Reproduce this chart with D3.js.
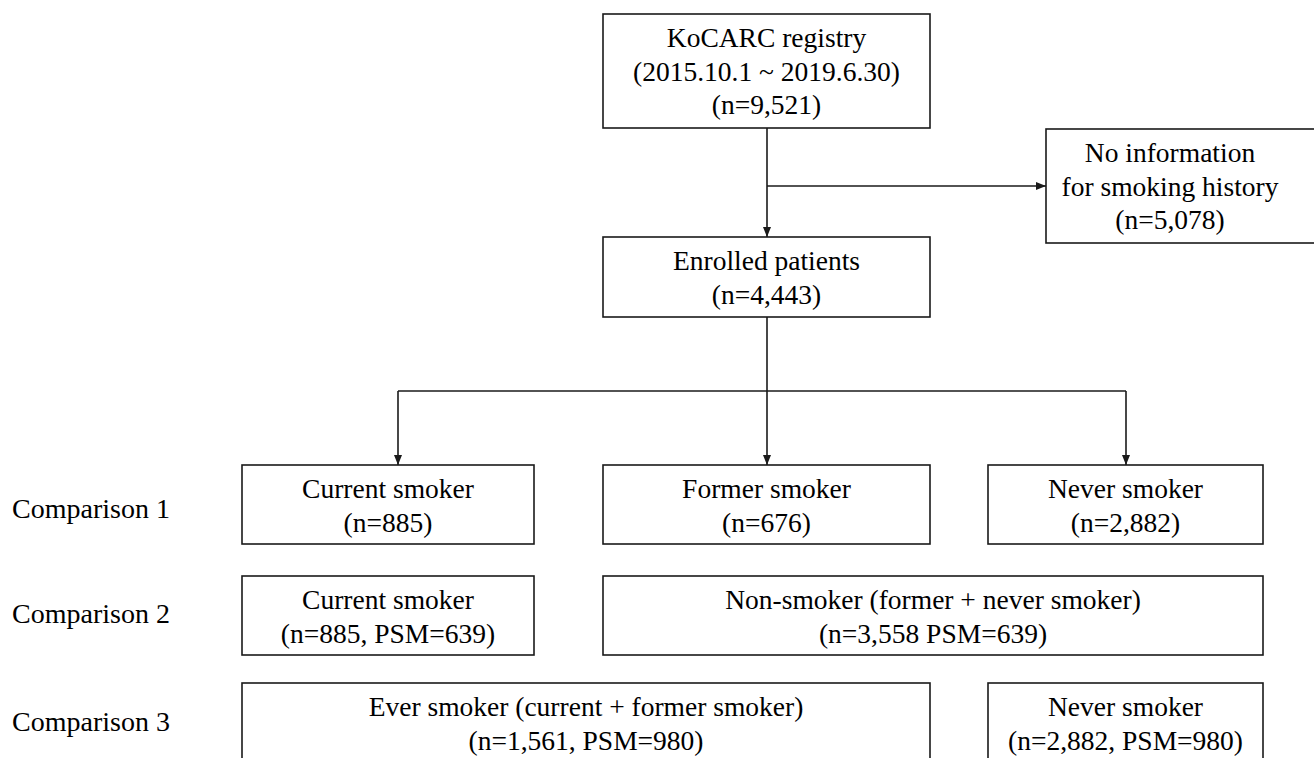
<!DOCTYPE html>
<html>
<head>
<meta charset="utf-8">
<script src="https://cdn.jsdelivr.net/npm/d3@7"></script>
<style>
  html, body { margin: 0; padding: 0; background: #fff; }
  svg { display: block; }
</style>
</head>
<body>
<svg></svg>
<script>
// Contenido del diagrama de flujo
var nodeIds = ["registry", "noinfo", "enrolled", "current1", "former1", "never1", "current2", "non2", "ever3", "never3"];
var nodeLines = [
  ["KoCARC registry", "(2015.10.1 ~ 2019.6.30)", "(n=9,521)"],
  ["No information", "for smoking history", "(n=5,078)"],
  ["Enrolled patients", "(n=4,443)"],
  ["Current smoker", "(n=885)"],
  ["Former smoker", "(n=676)"],
  ["Never smoker", "(n=2,882)"],
  ["Current smoker", "(n=885, PSM=639)"],
  ["Non-smoker (former + never smoker)", "(n=3,558 PSM=639)"],
  ["Ever smoker (current + former smoker)", "(n=1,561, PSM=980)"],
  ["Never smoker", "(n=2,882, PSM=980)"]
];
var rowLabels = ["Comparison 1", "Comparison 2", "Comparison 3"];
// enlaces: origen -> destinos
var links = [
  { from: "registry", to: ["enrolled"], side: "noinfo" },
  { from: "enrolled", to: ["current1", "former1", "never1"] }
];

// Disposición (columnas y filas)
var nodeCol = ["mid", "side", "mid", "left", "mid", "right", "left", "wide", "leftwide", "right"];
var nodeRow = ["r0", "rs", "r1", "r2", "r2", "r2", "r3", "r3", "r4", "r4"];

var svgWidth = 1314, svgHeight = 758;
var svg = d3.select("svg").attr("width", svgWidth).attr("height", svgHeight);

var colX = d3.scaleOrdinal()
  .domain(["left", "mid", "right", "side", "wide", "leftwide"])
  .range([[242, 534], [603, 930], [988, 1263], [1046, 1330], [603, 1263], [242, 930]]);
var rowY = d3.scaleOrdinal()
  .domain(["r0", "rs", "r1", "r2", "r3", "r4"])
  .range([[14, 128], [129, 243], [237, 317], [465, 544], [576, 655], [683, 800]]);
var labelY = d3.scaleOrdinal().domain(rowLabels).range([518, 623, 731]);

var nodes = nodeIds.map(function(id, i) {
  var xs = colX(nodeCol[i]), ys = rowY(nodeRow[i]);
  var cx = (xs[0] + xs[1]) / 2;
  if (id === "noinfo") cx = 1170; // la caja queda cortada por el borde derecho
  return { id: id, lines: nodeLines[i], x0: xs[0], x1: xs[1], y0: ys[0], y1: ys[1], cx: cx };
});
var byId = {};
nodes.forEach(function(n) { byId[n.id] = n; });

var ink = "#1a1a1a";
var font = "'Liberation Serif', 'Times New Roman', serif";

// punta de flecha
svg.append("defs").append("marker")
  .attr("id", "arrow")
  .attr("viewBox", "0 0 10 8")
  .attr("refX", 10).attr("refY", 4)
  .attr("markerWidth", 10).attr("markerHeight", 8)
  .attr("markerUnits", "userSpaceOnUse")
  .attr("orient", "auto")
  .append("path")
  .attr("d", "M0,0L10,4L0,8Z")
  .attr("fill", ink);

// Cajas
var g = svg.append("g");
g.selectAll("rect.box")
  .data(nodes)
  .join("rect")
  .attr("class", "box")
  .attr("x", function(d) { return d.x0; })
  .attr("y", function(d) { return d.y0; })
  .attr("width", function(d) { return d.x1 - d.x0; })
  .attr("height", function(d) { return d.y1 - d.y0; })
  .attr("fill", "#fff")
  .attr("stroke", ink)
  .attr("stroke-width", 1.6);

// Texto de las cajas
var lineGap = 33.5;
g.selectAll("text.node")
  .data(nodes)
  .join("text")
  .attr("class", "node")
  .attr("font-family", font)
  .attr("font-size", 27.5)
  .attr("fill", "#000")
  .attr("text-anchor", "middle")
  .each(function(d) {
    d3.select(this).selectAll("tspan")
      .data(d.lines)
      .join("tspan")
      .attr("x", d.cx)
      .attr("y", function(l, j) { return d.y0 + 33 + j * lineGap; })
      .text(function(l) { return l; });
  });

// Etiquetas de comparación
svg.selectAll("text.row")
  .data(rowLabels)
  .join("text")
  .attr("class", "row")
  .attr("x", 12)
  .attr("y", function(d) { return labelY(d); })
  .attr("font-family", font)
  .attr("font-size", 28)
  .attr("fill", "#000")
  .text(function(d) { return d; });

// Conectores
var line = d3.line();
var stemX = 767;
var reg = byId.registry, enr = byId.enrolled, side = byId.noinfo;
var sideY = (side.y0 + side.y1) / 2;

function arrow(pts) {
  svg.append("path")
    .attr("d", line(pts))
    .attr("fill", "none")
    .attr("stroke", ink)
    .attr("stroke-width", 1.6)
    .attr("marker-end", "url(#arrow)");
}
function seg(pts) {
  svg.append("path")
    .attr("d", line(pts))
    .attr("fill", "none")
    .attr("stroke", ink)
    .attr("stroke-width", 1.6);
}

// registro -> pacientes incluidos, con salida lateral
arrow([[stemX, reg.y1], [stemX, enr.y0]]);
arrow([[stemX, sideY], [side.x0, sideY]]);

// pacientes incluidos -> tres grupos
var branchY = 391;
var targets = links[1].to.map(function(id) { return byId[id]; });
var tx = targets.map(function(t, i) { return i === 0 ? 398 : (i === 1 ? stemX : 1126); });
seg([[stemX, enr.y1], [stemX, branchY]]);
seg([[tx[0], branchY], [tx[2], branchY]]);
targets.forEach(function(t, i) {
  arrow([[tx[i], branchY], [tx[i], t.y0]]);
});
</script>
</body>
</html>
